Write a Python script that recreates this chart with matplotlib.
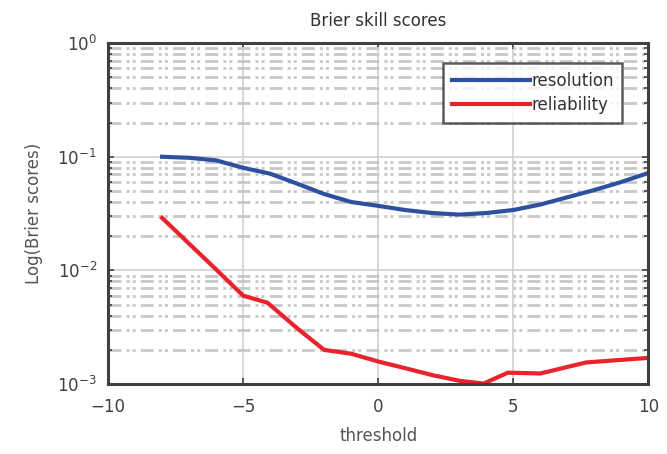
import numpy as np
import matplotlib
matplotlib.use("Agg")
import matplotlib.pyplot as plt

# values
thr_res = [-8, -7, -6, -5, -4, -3, -2, -1, 0, 1, 2, 3, 4, 5, 6, 7, 8, 9, 10]
resolution = [0.100, 0.098, 0.093, 0.080, 0.071, 0.058, 0.047, 0.040, 0.037,
              0.034, 0.032, 0.031, 0.032, 0.034, 0.038, 0.044, 0.051, 0.060, 0.072]

thr_rel = [-8, -7, -6, -5, -4.1, -3, -2, -1, 0, 1, 2, 3, 3.9, 4.8, 6, 7.7, 10]
reliability = [0.029, 0.0172, 0.0102, 0.0060, 0.0052, 0.0031, 0.0020, 0.00185,
               0.00158, 0.00138, 0.00120, 0.00107, 0.00101, 0.00126, 0.00124,
               0.00155, 0.00170]

fig = plt.figure(figsize=(6.67, 4.54), dpi=100)
ax = fig.add_axes([0.162, 0.154, 0.810, 0.751])

ax.plot(thr_res, resolution, color="#2f4fa0", lw=3, label="resolution")
ax.plot(thr_rel, reliability, color="#e8232b", lw=3, label="reliability")

ax.set_yscale("log")
ax.set_xlim(-10, 10)
ax.set_ylim(1e-3, 1e0)
ax.set_xticks([-10, -5, 0, 5, 10])
ax.set_yticks([1e-3, 1e-2, 1e-1, 1e0])

ax.grid(True, which="major", color="#d0d0d0", lw=1.2, ls="-")
ax.grid(True, which="minor", axis="y", color="#c8c8c8", lw=2.0,
        ls=(0, (4.7, 1.8, 1.1, 1.1, 1.1, 1.8)))
ax.set_axisbelow(True)

ax.tick_params(which="both", direction="in", top=True, right=True,
               labelsize=12, colors="#404040", length=4, width=1.2)
ax.tick_params(which="minor", length=3)
ax.tick_params(axis="x", pad=10)
ax.tick_params(axis="y", pad=8)
for s in ax.spines.values():
    s.set_color("#404040")
    s.set_linewidth(2.2)

ax.set_title("Brier skill scores", fontsize=12, color="#333333", pad=12)
ax.set_xlabel("threshold", fontsize=12, color="#555555", labelpad=8)
ax.set_ylabel("Log(Brier scores)", fontsize=12, color="#555555", labelpad=10)

leg = ax.legend(loc="upper right", bbox_to_anchor=(0.952, 0.941), fontsize=12,
                frameon=True, fancybox=False, handlelength=4.7, handletextpad=0.1,
                borderpad=0.5, labelspacing=0.4, borderaxespad=0)
leg.get_frame().set_edgecolor("#333333")
leg.get_frame().set_linewidth(1.8)
for t in leg.get_texts():
    t.set_color("#333333")

fig.savefig("out.png", dpi=100)
